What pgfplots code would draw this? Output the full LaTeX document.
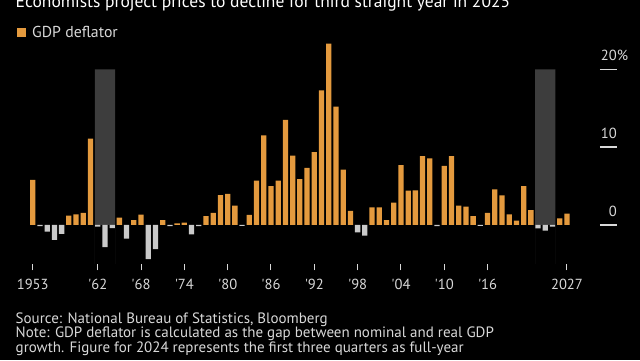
\documentclass[border=0pt]{standalone}
\usepackage{pgfplots}
\pgfplotsset{compat=1.18}
\usepackage{fontspec}
\setmainfont{PT Sans}
\definecolor{barorange}{HTML}{E49A3E}
\definecolor{bargray}{HTML}{CACACA}
\definecolor{shade}{HTML}{3D3D3D}
\definecolor{txt}{HTML}{D8D8D8}
\begin{document}
\begin{tikzpicture}[x=1pt,y=1pt]
\useasboundingbox (0,0) rectangle (640,360);
\fill[black] (0,0) rectangle (640,360);
\clip (0,0) rectangle (640,360);
% title and legend
\node[anchor=base west, inner sep=0, text=white, font=\fontsize{17.5}{19}\selectfont] at (15.5,352.5) {Economists project prices to decline for third straight year in 2025};
\fill[barorange] (17,323) rectangle (26,332);
\node[anchor=base west, inner sep=0, text=txt, font=\fontsize{15.8}{17}\selectfont] at (32,322.3) {GDP deflator};
% footnotes
\node[anchor=base west, inner sep=0, text=txt, font=\fontsize{15}{15}\selectfont] at (15.5,36.7) {Source: National Bureau of Statistics, Bloomberg};
\node[anchor=base west, inner sep=0, text=txt, font=\fontsize{15}{15}\selectfont] at (15.5,22.3) {Note: GDP deflator is calculated as the gap between nominal and real GDP};
\node[anchor=base west, inner sep=0, text=txt, font=\fontsize{15}{15}\selectfont] at (15.5,7.3) {growth. Figure for 2024 represents the first three quarters as full-year};
\begin{axis}[
  at={(18.3pt,96.1pt)}, anchor=south west,
  scale only axis, width=598.7pt, height=194.6pt,
  xmin=1951, xmax=2033.93, ymin=-5, ymax=20,
  clip=false,
  axis line style={draw=none},
  major tick length=6.5pt,
  xtick={1953,1962,1968,1974,1980,1986,1992,1998,2004,2010,2016,2027},
  xticklabels={1953,\textquotesingle62,\textquotesingle68,\textquotesingle74,\textquotesingle80,\textquotesingle86,\textquotesingle92,\textquotesingle98,\textquotesingle04,\textquotesingle10,\textquotesingle16,2027},
  xtick pos=bottom,
  x tick style={draw=txt, line width=1pt},
  xtick align=outside,
  xticklabel style={anchor=base, inner sep=0, yshift=-18.9pt, text=txt, font=\fontsize{14.6}{15}\selectfont},
  ytick={0,10,20},
  yticklabels={0,10,20\rlap{\%}},
  ytick pos=right,
  ytick align=inside,
  y tick style={draw=none},
  yticklabel style={anchor=base east, inner sep=0, xshift=0pt, yshift=8.6pt, text=txt, font=\fontsize{14.6}{15}\selectfont},
  yticklabel shift=0pt,
]
% shaded periods
\addplot[fill=shade, draw=none] coordinates {(1961.6,-5) (1961.6,20) (1964.4,20) (1964.4,-5)} \closedcycle;
\addplot[fill=shade, draw=none] coordinates {(2022.6,-5) (2022.6,20) (2025.4,20) (2025.4,-5)} \closedcycle;
% y tick lines
\draw[txt, line width=1.3pt] (axis cs:2031.57,0) -- (axis cs:2033.93,0);
\draw[txt, line width=1.3pt] (axis cs:2031.57,10) -- (axis cs:2033.93,10);
\draw[txt, line width=1.3pt] (axis cs:2031.57,20) -- (axis cs:2033.93,20);
% positive values
\addplot[ybar, bar width=0.73, bar shift=0pt, fill=barorange, draw=none] coordinates {
(1953,5.8) (1958,1.2) (1959,1.37) (1960,1.54) (1961,11.1)
(1965,0.94) (1967,0.64) (1968,1.32) (1971,0.64) (1973,0.2) (1974,0.3)
(1977,1.15) (1978,1.54) (1979,3.85) (1980,4.0) (1981,2.5) (1983,1.3)
(1984,5.7) (1985,11.5) (1986,5.0) (1987,5.7) (1988,13.5) (1989,8.9)
(1990,5.9) (1991,7.35) (1992,9.36) (1993,17.3) (1994,23.3) (1995,15.2)
(1996,7.1) (1997,1.8) (2000,2.26) (2001,2.26) (2002,0.64) (2003,2.86)
(2004,7.7) (2005,4.4) (2006,4.44) (2007,8.85) (2008,8.55) (2010,7.6)
(2011,8.85) (2012,2.5) (2013,2.35) (2014,1.15) (2016,1.54) (2017,4.57)
(2018,3.8) (2019,1.37) (2020,0.55) (2021,5.0) (2022,1.9) (2026,0.85) (2027,1.45)
};
% negative values
\addplot[ybar, bar width=0.73, bar shift=0pt, fill=bargray, draw=none] coordinates {
(1954,-0.15) (1955,-0.85) (1956,-1.9) (1957,-1.15) (1962,-0.2) (1963,-2.86)
(1964,-0.4) (1966,-1.75) (1969,-4.4) (1970,-3.1) (1972,-0.15) (1975,-1.2)
(1976,-0.15) (1982,-0.1) (1998,-0.94) (1999,-1.37) (2009,-0.15) (2015,-0.1)
(2023,-0.43) (2024,-0.73) (2025,-0.2)
};
\end{axis}
\end{tikzpicture}
\end{document}
